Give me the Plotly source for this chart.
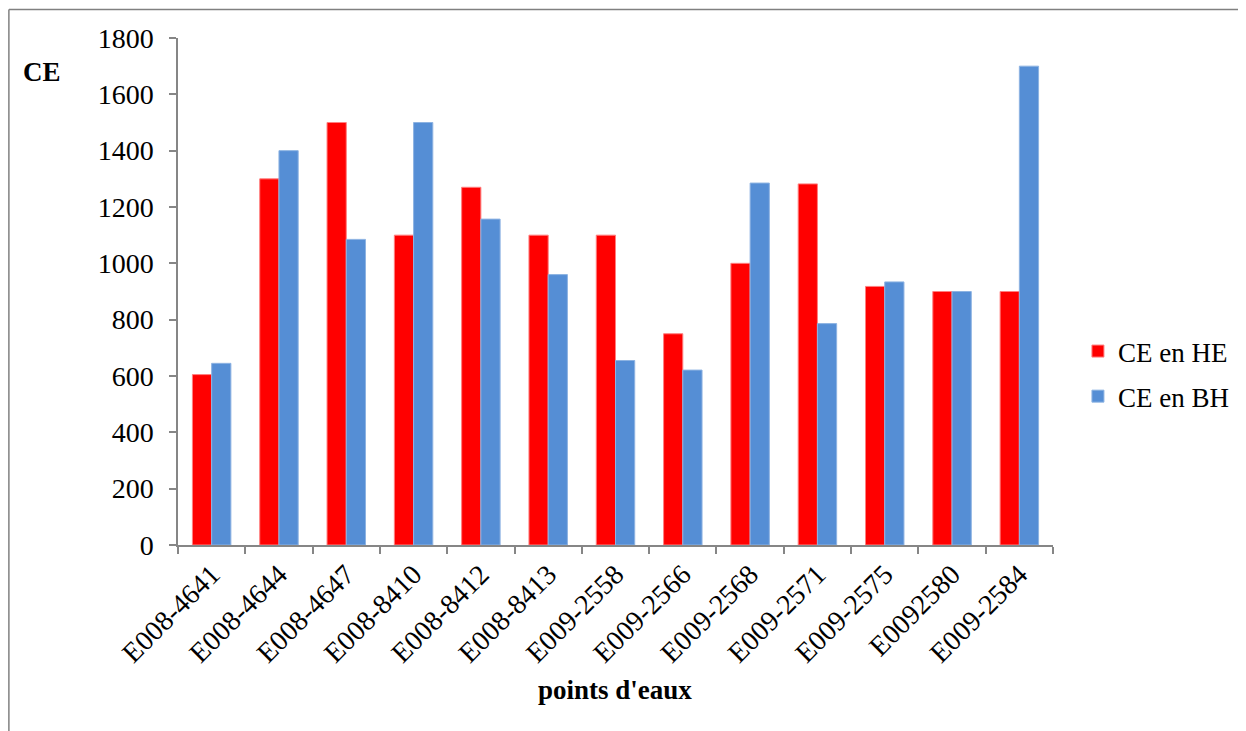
import plotly.graph_objects as go

categories = ["E008-4641", "E008-4644", "E008-4647", "E008-8410", "E008-8412", "E008-8413",
              "E009-2558", "E009-2566", "E009-2568", "E009-2571", "E009-2575", "E0092580", "E009-2584"]
ce_he = [605, 1300, 1500, 1100, 1270, 1100, 1100, 750, 1000, 1282, 918, 900, 900]
ce_bh = [645, 1400, 1085, 1500, 1157, 960, 655, 621, 1285, 786, 934, 900, 1700]
y_ticks = [0, 200, 400, 600, 800, 1000, 1200, 1400, 1600, 1800]

FONT = "Liberation Serif, Times New Roman, serif"
AX = "#868686"

fig = go.Figure()
fig.add_trace(go.Bar(x=categories, y=ce_he, name="CE en HE", legendgroup="he",
                     marker=dict(color="#FF0000", line=dict(color="#FF7F7F", width=1))))
fig.add_trace(go.Bar(x=categories, y=ce_bh, name="CE en BH", legendgroup="bh",
                     marker=dict(color="#558ED5", line=dict(color="#8DB3E2", width=1))))

# page body has an 8px margin: figure origin sits at (8, 8) in the window
OFF = 8
W, H = 1246 - OFF, 731 - OFF
L, R, T, B = 178 - OFF, 1055 - OFF, 38 - OFF, 545 - OFF
pw, ph = R - L, B - T

def px(x):
    return (x - OFF - L) / pw

def py(y):
    return (B - (y - OFF)) / ph

fig.update_layout(
    width=W, height=H,
    margin=dict(l=L, r=W - R, t=T, b=H - B, pad=0),
    paper_bgcolor="white", plot_bgcolor="white",
    font=dict(family=FONT, size=27, color="black"),
    barmode="group", bargap=0.4286, bargroupgap=0,
    showlegend=True,
    legend=dict(x=px(1080), y=py(374), xanchor="left", yanchor="middle",
                font=dict(family=FONT, size=27, color="black"),
                bgcolor="rgba(0,0,0,0)", tracegroupgap=7, itemwidth=30),
    xaxis=dict(showline=True, linecolor=AX, linewidth=1.5, ticks="outside", tickcolor=AX,
               ticklen=7, tickwidth=1.5, tickson="boundaries", tickangle=-45,
               tickfont=dict(family=FONT, size=28, color="black"), showgrid=False,
               zeroline=False, fixedrange=True),
    yaxis=dict(range=[0, 1800], tickvals=y_ticks, showline=True, linecolor=AX, linewidth=1.5,
               ticks="outside", tickcolor=AX, ticklen=7, tickwidth=1.5, showgrid=False,
               zeroline=False, tickfont=dict(family=FONT, size=28, color="black"),
               ticklabelstandoff=10),
    annotations=[
        dict(text="<b>CE</b>", x=px(42), y=py(72), xref="paper", yref="paper",
             xanchor="center", yanchor="middle", showarrow=False,
             font=dict(family=FONT, size=27, color="black")),
        dict(text="<b>points d'eaux</b>", x=px(616), y=py(690), xref="paper", yref="paper",
             xanchor="center", yanchor="middle", showarrow=False,
             font=dict(family=FONT, size=27, color="black")),
    ],
    shapes=[
        dict(type="line", xref="paper", yref="paper", x0=px(8.5), x1=px(8.5),
             y0=py(731), y1=py(9.5), line=dict(color="#808080", width=1.5)),
        dict(type="line", xref="paper", yref="paper", x0=px(8.5), x1=px(1246),
             y0=py(9.5), y1=py(9.5), line=dict(color="#808080", width=1.5)),
    ],
)

fig.write_html("out.html")
